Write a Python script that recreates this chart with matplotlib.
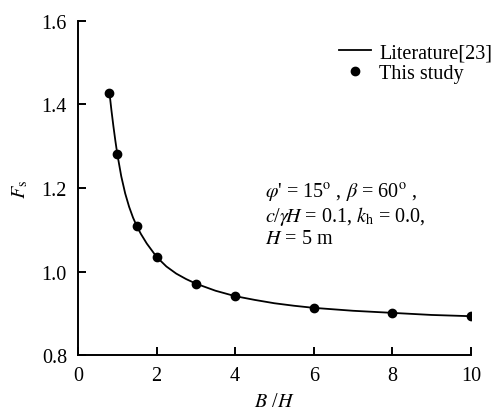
import numpy as np
import matplotlib.pyplot as plt

plt.rcParams['font.family'] = ['Liberation Serif', 'DejaVu Serif']
plt.rcParams['mathtext.fontset'] = 'stix'

# Literature curve, read at several B/H values
lit_x = [0.8, 0.85, 0.9, 0.95, 1.0, 1.1, 1.2, 1.3, 1.4, 1.5, 1.6, 1.75, 2.0,
         2.25, 2.5, 2.75, 3.0, 3.5, 4.0, 4.5, 5.0, 5.5, 6.0, 7.0, 8.0, 9.0, 10.0]
lit_fs = [1.428, 1.386, 1.348, 1.313, 1.281, 1.228, 1.187, 1.155, 1.129, 1.108,
          1.090, 1.067, 1.035, 1.012, 0.995, 0.982, 0.971, 0.954, 0.941, 0.932,
          0.924, 0.918, 0.913, 0.906, 0.901, 0.896, 0.893]

# Present results
study_x = [0.8, 1.0, 1.5, 2.0, 3.0, 4.0, 6.0, 8.0, 10.0]
study_fs = [1.428, 1.281, 1.108, 1.035, 0.971, 0.941, 0.913, 0.901, 0.893]

fig = plt.figure(figsize=(4.94, 4.14), dpi=100)
ax = fig.add_axes([0.158, 0.140, 0.795, 0.807])

ax.plot(lit_x, lit_fs, color='black', lw=1.3, label='Literature[23]')
ax.plot(study_x, study_fs, 'o', color='black', ms=6, label='This study')

ax.set_xlim(0, 10)
ax.set_ylim(0.8, 1.6)
ax.set_xticks([0, 2, 4, 6, 8, 10])
ax.set_yticks([0.8, 1.0, 1.2, 1.4, 1.6])
ax.yaxis.set_major_formatter(plt.FormatStrFormatter('%.1f'))
for s in ['top', 'right']:
    ax.spines[s].set_visible(False)
for s in ['left', 'bottom']:
    ax.spines[s].set_linewidth(1.4)
ax.tick_params(direction='in', length=6, width=1.4, labelsize=14.5)
ax.tick_params(axis='x', pad=8)
ax.tick_params(axis='y', pad=8)

ax.set_xlabel(r'$B$ /$H$', fontsize=14.5, labelpad=5)
ax.set_ylabel(r'$F_{\mathrm{s}}$', fontsize=14.5, labelpad=8)

ax.legend(loc='upper right', bbox_to_anchor=(1.075, 0.957), frameon=False,
          fontsize=14.5, handlelength=1.6, handletextpad=0.4, labelspacing=0.05,
          borderaxespad=0)

# Parameter block
ax.text(4.75, 1.178, r"$\varphi$' = 15$^{\mathrm{o}}$ , $\beta$ = 60$^{\mathrm{o}}$ ,",
        fontsize=14.5, va='baseline')
ax.text(4.75, 1.122, r"$c$/$\gamma\!H$ = 0.1, $k_{\mathrm{h}}$ = 0.0,",
        fontsize=14.5, va='baseline')
ax.text(4.75, 1.069, r"$H$ = 5 m", fontsize=14.5, va='baseline')

fig.savefig('out.png', dpi=100)
